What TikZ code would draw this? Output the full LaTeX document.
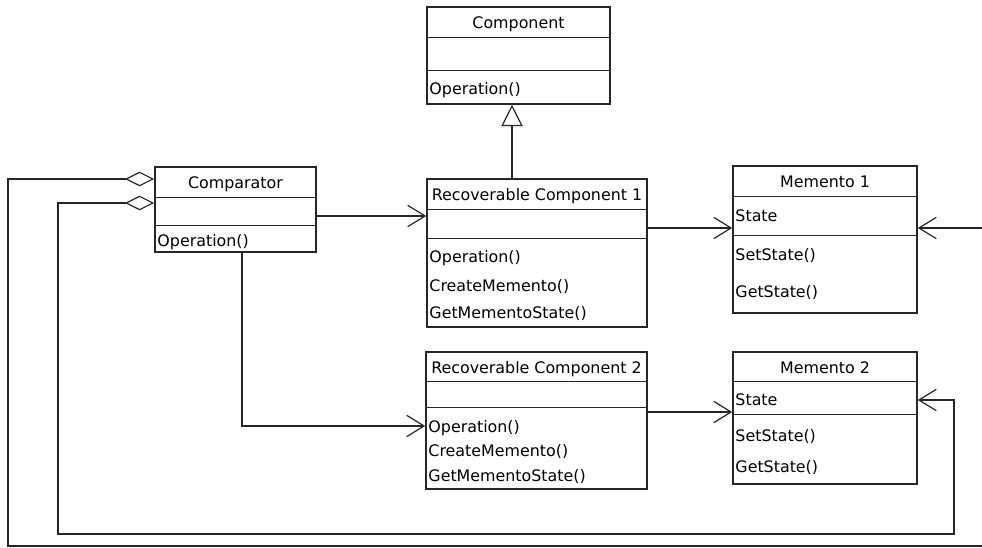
\documentclass[tikz,border=0pt]{standalone}
\usepackage{fontspec}
\setmainfont{DejaVu Sans}
\usetikzlibrary{arrows.meta, positioning, calc}

\begin{document}
\begin{tikzpicture}[
  x=0.75pt, y=-0.75pt,
  font=\fontsize{11.9}{13}\selectfont,
  classbox/.style={draw=black!85, line width=1.2pt, fill=white, inner sep=0pt},
  compline/.style={black!85, line width=1pt},
  clstitle/.style={inner sep=0pt, text height=8.5pt, text depth=2pt},
  member/.style={anchor=west, inner sep=0pt, text height=8.5pt, text depth=2pt},
  assoc/.style={-{Straight Barb[length=13pt, width=16pt]}, line width=0.9pt, black!85},
  inherit/.style={-{Triangle[open, length=16pt, width=16pt, fill=white]}, line width=0.9pt, black!85},
  aggr/.style={{Diamond[open, length=22pt, width=11pt, fill=white]}-{Straight Barb[length=13pt, width=16pt]},
               line width=0.9pt, black!85},
]

\useasboundingbox (0,0) rectangle (982,547);

% === Component (top) ===
\node[classbox, minimum width=137.25pt, minimum height=72.75pt] (comp) at (518.5,55.5) {};
\draw[compline] ($(comp.north west)+(0,31)$) -- ($(comp.north east)+(0,31)$);
\draw[compline] ($(comp.north west)+(0,64)$) -- ($(comp.north east)+(0,64)$);
\node[clstitle] (comptitle) at ($(comp.north)+(0,18)$) {Component};
\node[member] (compop) at ($(comp.north west)+(3,84)$) {Operation()};

% === Comparator ===
\node[classbox, minimum width=120.75pt, minimum height=63.75pt] (cmp) at (235.5,209.5) {};
\draw[compline] ($(cmp.north west)+(0,31)$) -- ($(cmp.north east)+(0,31)$);
\draw[compline] ($(cmp.north west)+(0,59)$) -- ($(cmp.north east)+(0,59)$);
\node[clstitle] (cmptitle) at ($(cmp.north)+(0,18)$) {Comparator};
\node[member] (cmpop) at ($(cmp.north west)+(3,76)$) {Operation()};

% === Recoverable Component 1 ===
\node[classbox, minimum width=165pt, minimum height=111pt] (rc1) at (537,253) {};
\draw[compline] ($(rc1.north west)+(0,31)$) -- ($(rc1.north east)+(0,31)$);
\draw[compline] ($(rc1.north west)+(0,60)$) -- ($(rc1.north east)+(0,60)$);
\node[clstitle] (rc1title) at ($(rc1.north)+(0,18)$) {Recoverable Component 1};
\node[member] (rc1op) at ($(rc1.north west)+(3,80)$) {Operation()};
\node[member] (rc1cm) at ($(rc1.north west)+(3,109)$) {CreateMemento()};
\node[member] (rc1gm) at ($(rc1.north west)+(3,136)$) {GetMementoState()};

% === Memento 1 ===
\node[classbox, minimum width=138pt, minimum height=110.25pt] (m1) at (825,239.5) {};
\draw[compline] ($(m1.north west)+(0,31)$) -- ($(m1.north east)+(0,31)$);
\draw[compline] ($(m1.north west)+(0,70)$) -- ($(m1.north east)+(0,70)$);
\node[clstitle] (m1title) at ($(m1.north)+(0,18)$) {Memento 1};
\node[member] (m1st) at ($(m1.north west)+(3,52)$) {State};
\node[member] (m1set) at ($(m1.north west)+(3,91)$) {SetState()};
\node[member] (m1get) at ($(m1.north west)+(3,128)$) {GetState()};

% === Recoverable Component 2 ===
\node[classbox, minimum width=165.75pt, minimum height=102.75pt] (rc2) at (536.5,420.5) {};
\draw[compline] ($(rc2.north west)+(0,30)$) -- ($(rc2.north east)+(0,30)$);
\draw[compline] ($(rc2.north west)+(0,56)$) -- ($(rc2.north east)+(0,56)$);
\node[clstitle] (rc2title) at ($(rc2.north)+(0,18)$) {Recoverable Component 2};
\node[member] (rc2op) at ($(rc2.north west)+(3,77)$) {Operation()};
\node[member] (rc2cm) at ($(rc2.north west)+(3,101)$) {CreateMemento()};
\node[member] (rc2gm) at ($(rc2.north west)+(3,126)$) {GetMementoState()};

% === Memento 2 ===
\node[classbox, minimum width=138pt, minimum height=99pt] (m2) at (825,418) {};
\draw[compline] ($(m2.north west)+(0,30)$) -- ($(m2.north east)+(0,30)$);
\draw[compline] ($(m2.north west)+(0,63)$) -- ($(m2.north east)+(0,63)$);
\node[clstitle] (m2title) at ($(m2.north)+(0,18)$) {Memento 2};
\node[member] (m2st) at ($(m2.north west)+(3,50)$) {State};
\node[member] (m2set) at ($(m2.north west)+(3,86)$) {SetState()};
\node[member] (m2get) at ($(m2.north west)+(3,117)$) {GetState()};

% Generalisation
\draw[inherit] ($(rc1.north)+(-25,0)$) -- ($(comp.south)+(-6.5,0)$);

% Associations
\draw[assoc] ($(cmp.east)+(0,6.5)$) -- ($(rc1.west)+(0,-37)$);
\draw[assoc] ($(cmp.south)+(6.5,0)$) |- ($(rc2.west)+(0,5.5)$);
\draw[assoc] ($(rc1.east)+(0,-25)$) -- ($(m1.west)+(0,-11.5)$);
\draw[assoc] ($(rc2.east)+(0,-8.5)$) -- ($(m2.west)+(0,-6)$);

% Aggregations round the outside
\coordinate (outerbl) at (8,546);
\coordinate (outerbr) at (995,228);
\coordinate (innerbl) at (58,534);
\coordinate (innerbr) at (954,400);
\draw[aggr] ($(cmp.west)+(0,-30.5)$) -| (outerbl) -| (outerbr) -- ($(m1.east)+(0,-11.5)$);
\draw[aggr] ($(cmp.west)+(0,-6.5)$) -| (innerbl) -| (innerbr) -- ($(m2.east)+(0,-18)$);

\end{tikzpicture}
\end{document}
